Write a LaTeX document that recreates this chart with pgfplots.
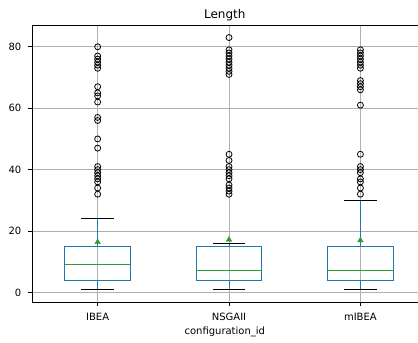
\documentclass[border=0pt]{standalone}
\usepackage{fontspec}
\setmainfont{DejaVu Sans}
\usepackage{pgfplots}
\pgfplotsset{compat=1.18}
\usepgfplotslibrary{statistics}
\definecolor{mblue}{HTML}{1F77B4}
\definecolor{mgreen}{HTML}{2CA02C}
\definecolor{mgrid}{HTML}{B0B0B0}
\pgfplotsset{
  mybox/.style={
    boxplot/draw direction=y,
    boxplot/box extend=0.5,
    boxplot/whisker extend=0.25,
    boxplot/every box/.style={draw=mblue, line width=1pt},
    boxplot/draw/median/.code={%
      \draw[mgreen, line width=1pt] (boxplot box cs:\pgfplotsboxplotvalue{median},0) -- (boxplot box cs:\pgfplotsboxplotvalue{median},1);
    },
    boxplot/draw/lower whisker/.code={%
      \draw[mblue, line width=1pt] (boxplot cs:\pgfplotsboxplotvalue{lower quartile}) -- (boxplot cs:\pgfplotsboxplotvalue{lower whisker});
      \draw[black, line width=1pt] (boxplot whisker cs:\pgfplotsboxplotvalue{lower whisker},0) -- (boxplot whisker cs:\pgfplotsboxplotvalue{lower whisker},1);
    },
    boxplot/draw/upper whisker/.code={%
      \draw[mblue, line width=1pt] (boxplot cs:\pgfplotsboxplotvalue{upper quartile}) -- (boxplot cs:\pgfplotsboxplotvalue{upper whisker});
      \draw[black, line width=1pt] (boxplot whisker cs:\pgfplotsboxplotvalue{upper whisker},0) -- (boxplot whisker cs:\pgfplotsboxplotvalue{upper whisker},1);
    },
    mark=o, mark size=3pt, mark options={draw=black, line width=0.8pt, solid},
  }
}
\begin{document}
\begin{tikzpicture}
\begin{axis}[
  at={(0,0)}, anchor=south west,
  scale only axis,
  width=386pt, height=277.3pt,
  xmin=0.5, xmax=3.4354, ymin=-3.1, ymax=87.1,
  separate axis lines,
  axis x line*=bottom, axis y line*=left,
  xtick={1,2,3}, xticklabels={IBEA,NSGAII,mIBEA},
  ytick={0,20,40,60,80},
  tick align=outside, xtick pos=bottom, ytick pos=left,
  major tick length=3.5pt,
  every tick/.style={black, line width=0.8pt},
  axis line style={line width=0.8pt, black, -},
  grid=major,
  major grid style={mgrid, line width=0.8pt},
  /pgf/number format/assume math mode=true,
  tick label style={font=\fontsize{10}{12}\selectfont},
  xticklabel style={yshift=-3.7pt},
  yticklabel style={xshift=-3.7pt},
  label style={font=\fontsize{10}{12}\selectfont},
  title style={font=\fontsize{12}{14}\selectfont, yshift=-6pt},
  title={Length},
  xlabel={configuration\_id},
]
\addplot[mybox, boxplot prepared={draw position=1, lower whisker=1, lower quartile=4, median=9, upper quartile=15, upper whisker=24}]
  table[row sep=\\, y index=0] {v\\ 80\\ 77\\ 76\\ 75\\ 74\\ 73\\ 67\\ 65\\ 64\\ 62\\ 57\\ 56\\ 50\\ 47\\ 41\\ 40\\ 39\\ 38\\ 37\\ 36\\ 34\\ 32\\};
\addplot[mybox, boxplot prepared={draw position=2, lower whisker=1, lower quartile=4, median=7, upper quartile=15, upper whisker=16}]
  table[row sep=\\, y index=0] {v\\ 83\\ 79\\ 78\\ 77\\ 76\\ 75\\ 74\\ 73\\ 72\\ 71\\ 45\\ 43\\ 41\\ 40\\ 39\\ 38\\ 37\\ 35\\ 34\\ 33\\ 32\\};
\addplot[mybox, boxplot prepared={draw position=3, lower whisker=1, lower quartile=4, median=7, upper quartile=15, upper whisker=30}]
  table[row sep=\\, y index=0] {v\\ 79\\ 78\\ 77\\ 76\\ 75\\ 74\\ 73\\ 69\\ 68\\ 67\\ 66\\ 61\\ 45\\ 41\\ 40\\ 39\\ 37\\ 36\\ 34\\ 32\\};
\addplot[only marks, mark=triangle*, mark size=3.2pt, mgreen, mark options={fill=mgreen, draw=mgreen}]
  coordinates {(1,16.4) (2,17.2) (3,17.0)};
\end{axis}
\draw[black, line width=0.8pt] (0,277.3pt) -- (386pt,277.3pt);
\path (-32pt,-40.7pt) rectangle (386pt,302.3pt);
\end{tikzpicture}
\end{document}
